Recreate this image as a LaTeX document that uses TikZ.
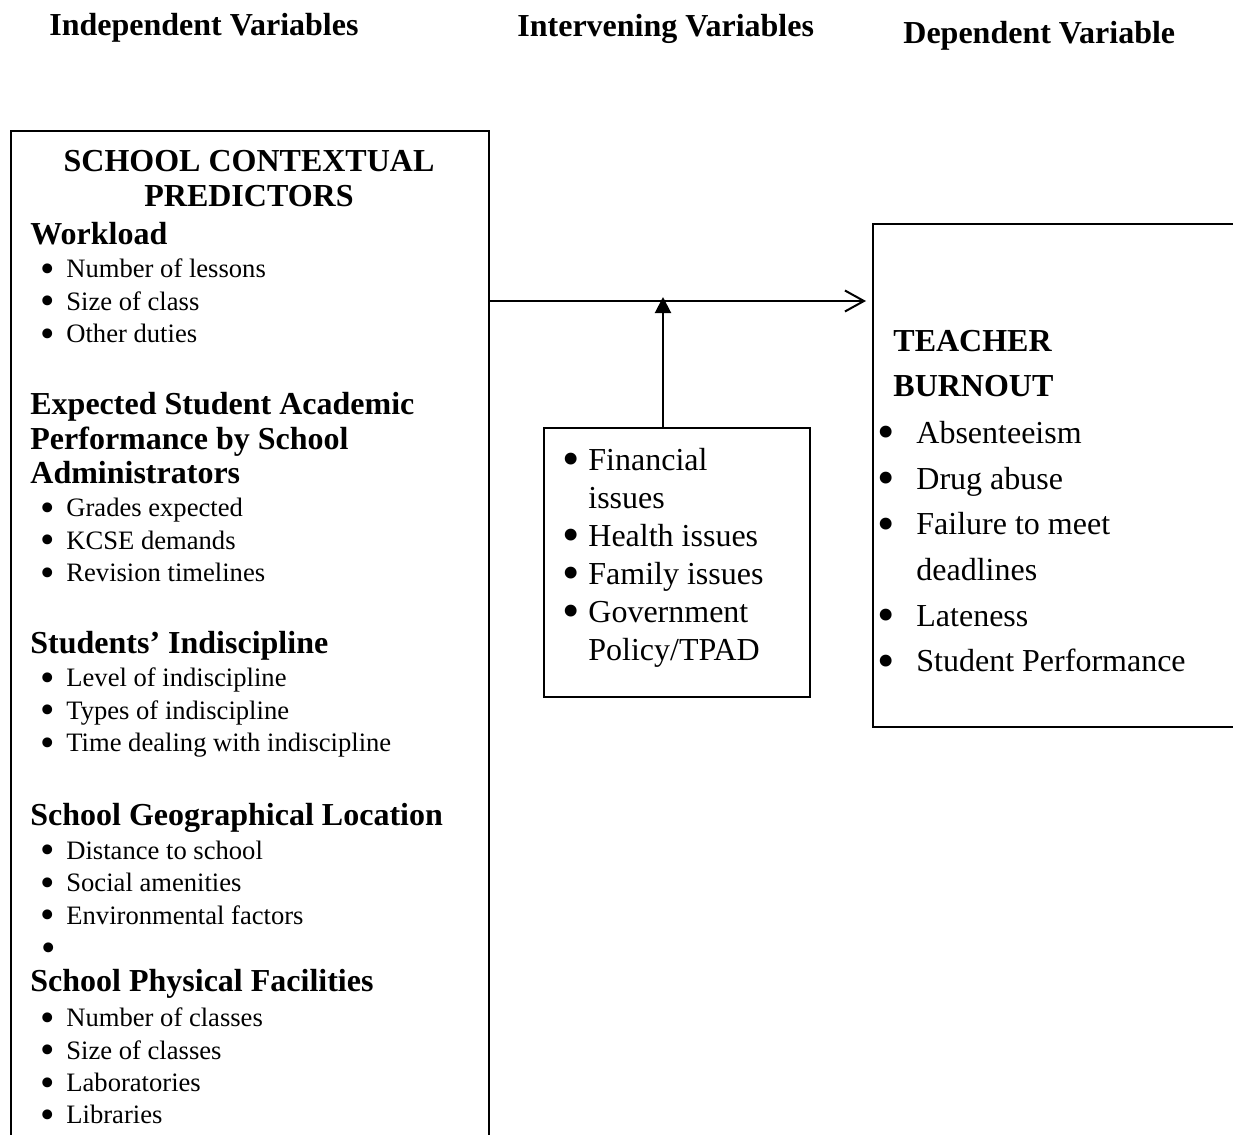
\documentclass[tikz,border=0pt]{standalone}
\usepackage{fontspec}
\setmainfont{Liberation Serif}
\usetikzlibrary{arrows.meta,positioning,calc}
\newcommand{\bul}[1][5.5pt]{\llap{\smash{\raisebox{-0.17em}{\scalebox{1.55}{\textbullet}}}\hspace{#1}}}

\begin{document}
\begin{tikzpicture}[
  x=0.5pt, y=-0.5pt,
  box/.style={draw, line width=1pt, inner sep=0pt, anchor=north west},
  hdr/.style={font=\fontsize{16}{19}\selectfont\bfseries, inner sep=0pt, anchor=base west},
  group/.style={font=\fontsize{16}{19}\selectfont\bfseries, inner sep=0pt, anchor=base west},
  item/.style={font=\fontsize{13.3}{16}\selectfont, inner sep=0pt, anchor=base west},
  bigitem/.style={font=\fontsize{16}{19}\selectfont, inner sep=0pt, anchor=base west},
  flow/.style={-{Straight Barb[length=9.5pt,width=10.5pt]}, line width=1pt},
  rise/.style={-{Triangle[length=8pt,width=8pt]}, line width=1pt}
]
\useasboundingbox (0,0) rectangle (1233,1135);

% column headings
\node[hdr] (indep) at (49,35.7) {Independent Variables};
\node[hdr] (interv) at (517,36.5) {Intervening Variables};
\node[hdr] (dep) at (903,43.3) {Dependent Variable};

% boxes
\node[box, minimum width=239pt, minimum height=520pt] (ctx) at (10,130) {};
\node[box, minimum width=133pt, minimum height=134.5pt] (mid) at (543,427) {};
\node[box, minimum width=194pt, minimum height=251.5pt] (burn) at (872,223) {};

% school contextual predictors
\node[group, anchor=base] (ctxtop) at (249,171.5) {SCHOOL CONTEXTUAL};
\node[group, anchor=base] (ctxbot) at (249,206.5) {PREDICTORS};
\node[group] (work) at (30,244) {Workload};
\foreach \t [count=\i from 0] in {Number of lessons, Size of class, Other duties}
  \node[item] (work\i) at (66,{277.7+32.4*\i}) {\bul\t};
\node[group] (perfa) at (30,414) {Expected Student Academic};
\node[group] (perfb) at (30,449) {Performance by School};
\node[group] (perfc) at (30,483) {Administrators};
\foreach \t [count=\i from 0] in {Grades expected, KCSE demands, Revision timelines}
  \node[item] (perf\i) at (66,{516.7+32.4*\i}) {\bul\t};
\node[group] (disc) at (30,653.3) {Students' Indiscipline};
\foreach \t [count=\i from 0] in {Level of indiscipline, Types of indiscipline, Time dealing with indiscipline}
  \node[item] (disc\i) at (66,{686.7+32.4*\i}) {\bul\t};
\node[group] (geo) at (30,825) {School Geographical Location};
\foreach \t [count=\i from 0] in {Distance to school, Social amenities, Environmental factors, {}}
  \node[item] (geo\i) at (66,{859.3+32.4*\i}) {\bul\t};
\node[group] (fac) at (30,991.7) {School Physical Facilities};
\foreach \t [count=\i from 0] in {Number of classes, Size of classes, Laboratories, Libraries}
  \node[item] (fac\i) at (66,{1026.7+32.4*\i}) {\bul\t};

% intervening
\foreach \t [count=\i from 0] in {\bul[4.3pt]Financial, issues, \bul[4.3pt]Health issues,
    \bul[4.3pt]Family issues, \bul[4.3pt]Government, Policy/TPAD}
  \node[bigitem] (mid\i) at (588,{470+38*\i}) {\t};

% teacher burnout
\node[group] (burntop) at (893,351.7) {TEACHER};
\node[group] (burnbot) at (893,396) {BURNOUT};
\foreach \t [count=\i from 0] in {\bul[10.8pt]Absenteeism, \bul[10.8pt]Drug abuse,
    \bul[10.8pt]Failure to meet, deadlines, \bul[10.8pt]Lateness, \bul[10.8pt]Student Performance}
  \node[bigitem] (burn\i) at (916,{443.3+45.7*\i}) {\t};

% connectors
\coordinate (jn) at (663,301);
\draw[flow, shorten >=3pt] (ctx.east |- jn) -- (burn.west |- jn);
\draw[rise, shorten >=-2pt] (mid.north -| jn) -- (jn);
\end{tikzpicture}
\end{document}
